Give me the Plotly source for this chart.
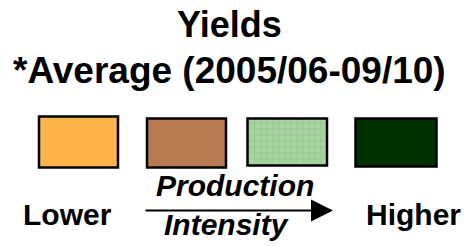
import plotly.graph_objects as go

# ---- data ----
title_lines = ["Yields", "*Average (2005/06-09/10)"]
levels = ["Level 1", "Level 2", "Level 3", "Level 4"]
level_colors = ["#FDB54A", "#B87A50", "#A9D4A1", "#003100"]
level_patterns = ["", "", "+", ""]
end_labels = ["Lower", "Higher"]
axis_words = ["Production", "Intensity"]

# ---- layout (pixel-space positions) ----
W, H = 468, 246
box_left = [39, 147, 247.5, 355.5]
box_right = [118, 226, 327, 436.5]
box_top = [116.5, 118.5, 118.5, 118.5]
box_bottom = [167.5, 167.5, 165.5, 166.5]

fig = go.Figure()

for i, name in enumerate(levels):
    fig.add_trace(go.Bar(
        x=[(box_left[i] + box_right[i]) / 2],
        y=[box_bottom[i] - box_top[i]],
        base=[box_top[i]],
        width=[box_right[i] - box_left[i]],
        name=name,
        marker=dict(
            color=level_colors[i],
            line=dict(color="black", width=2.5),
            pattern=dict(shape=level_patterns[i], fgcolor="#72B872",
                         bgcolor=level_colors[i], size=6, solidity=0.2),
        ),
        showlegend=False,
        hoverinfo="skip",
    ))

font_title = dict(family="Liberation Sans, Arial, sans-serif", size=36, color="black")
font_title2 = dict(family="Liberation Sans, Arial, sans-serif", size=37, color="black")
font_lbl = dict(family="Liberation Sans, Arial, sans-serif", size=30, color="black")

annotations = [
    dict(x=229, y=24, text="<b>%s</b>" % title_lines[0], font=font_title),
    dict(x=229, y=70, text="<b>%s</b>" % title_lines[1], font=font_title2),
    dict(x=67, y=214, text="<b>%s</b>" % end_labels[0], font=font_lbl),
    dict(x=413, y=214, text="<b>%s</b>" % end_labels[1], font=font_lbl),
    dict(x=235, y=185, text="<b><i>%s</i></b>" % axis_words[0], font=font_lbl),
    dict(x=226, y=224, text="<b><i>%s</i></b>" % axis_words[1], font=font_lbl),
]
for a in annotations:
    a.update(xref="x", yref="y", showarrow=False, xanchor="center", yanchor="middle")

# arrow
annotations.append(dict(
    x=333, y=210.5, ax=144, ay=210.5, xref="x", yref="y", axref="x", ayref="y",
    showarrow=True, arrowhead=2, arrowsize=2.2, arrowwidth=2, arrowcolor="black", text="",
))

fig.update_layout(
    width=W, height=H,
    margin=dict(l=0, r=0, t=0, b=0),
    paper_bgcolor="white", plot_bgcolor="white",
    xaxis=dict(range=[0, W], visible=False, fixedrange=True),
    yaxis=dict(range=[H, 0], visible=False, fixedrange=True),
    annotations=annotations,
    barmode="overlay",
)

fig.write_html("out.html", config={"displayModeBar": False},
               post_script="document.body.style.margin='0';document.body.style.overflow='hidden';")
